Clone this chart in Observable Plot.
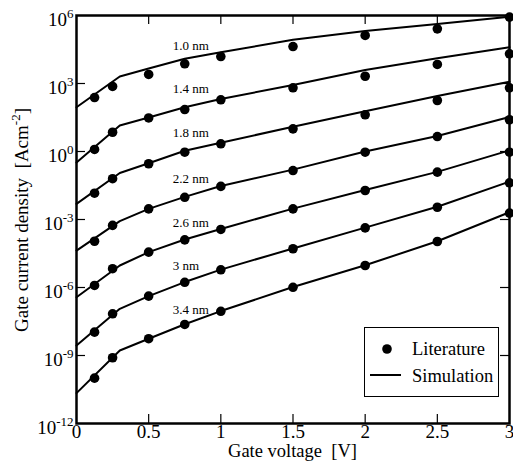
<!DOCTYPE html>
<html><head><meta charset="utf-8">
<script src="https://cdn.jsdelivr.net/npm/d3@7"></script>
<script src="https://cdn.jsdelivr.net/npm/@observablehq/plot@0.6"></script>
<style>
body{margin:0;background:#fff;}
svg, svg text, svg tspan{font-family:"Liberation Serif","Times New Roman",serif !important;}
</style></head><body><div id="chart"></div>
<script>
// Oxide thickness of each curve
const thicknesses = ["1.0 nm","1.4 nm","1.8 nm","2.2 nm","2.6 nm","3 nm","3.4 nm"];

// Literature points (gate voltage, V) and log10 of gate current density (A/cm^2)
const litVoltages = [0.125, 0.25, 0.5, 0.75, 1, 1.5, 2, 2.5, 3];
const lit_1_0 = [2.38, 2.87, 3.40, 3.87, 4.19, 4.63, 5.12, 5.41, 5.93];
const lit_1_4 = [0.09, 0.85, 1.48, 1.85, 2.28, 2.81, 3.32, 3.84, 4.31];
const lit_1_8 = [-1.84, -1.20, -0.54, -0.03, 0.34, 1.00, 1.62, 2.25, 2.81];
const lit_2_2 = [-3.96, -3.26, -2.53, -2.02, -1.54, -0.84, -0.03, 0.66, 1.40];
const lit_2_6 = [-5.91, -5.17, -4.44, -3.90, -3.44, -2.53, -1.72, -0.91, -0.03];
const lit_3_0 = [-7.97, -7.16, -6.38, -5.77, -5.22, -4.29, -3.37, -2.46, -1.38];
const lit_3_4 = [-10.00, -9.10, -8.26, -7.63, -7.05, -5.99, -5.03, -3.97, -2.72];

// Simulation curves: gate voltage and log10 of gate current density
const simVoltages = [0, 0.3, 0.5, 0.75, 1, 1.5, 2, 2.5, 3];
const sim_1_0 = [1.95, 3.31, 3.66, 4.09, 4.38, 4.93, 5.32, 5.62, 5.95];
const sim_1_4 = [-0.49, 1.15, 1.50, 1.95, 2.32, 2.93, 3.60, 4.11, 4.60];
const sim_1_8 = [-2.31, -0.95, -0.52, 0.03, 0.39, 1.09, 1.78, 2.45, 3.08];
const sim_2_2 = [-4.37, -3.07, -2.53, -2.00, -1.52, -0.80, 0.00, 0.68, 1.52];
const sim_2_6 = [-6.43, -5.03, -4.44, -3.88, -3.42, -2.52, -1.70, -0.90, 0.05];
const sim_3_0 = [-8.56, -6.94, -6.38, -5.76, -5.21, -4.28, -3.36, -2.44, -1.33];
const sim_3_4 = [-10.66, -8.78, -8.26, -7.62, -7.04, -5.98, -5.02, -3.96, -2.68];

// Curve label anchors (voltage, log10 current density)
const labelVoltage = 0.667;
const labelLog10 = [4.68, 2.78, 0.84, -1.19, -3.13, -5.03, -6.97];

// Axis ticks
const xTicks = [0, 0.5, 1, 1.5, 2, 2.5, 3];
const xInnerTicks = [0.5, 1, 1.5, 2, 2.5];
const yTickExponents = [-12, -9, -6, -3, 0, 3, 6];
const yInnerExponents = [-9, -6, -3, 0, 3];

const litSeries = [lit_1_0, lit_1_4, lit_1_8, lit_2_2, lit_2_6, lit_3_0, lit_3_4];
const simSeries = [sim_1_0, sim_1_4, sim_1_8, sim_2_2, sim_2_6, sim_3_0, sim_3_4];

const litRows = thicknesses.flatMap((t, i) => litVoltages.map((v, j) => ({t, V: v, J: 10 ** litSeries[i][j]})));
const simRows = thicknesses.flatMap((t, i) => simVoltages.map((v, j) => ({t, V: v, J: 10 ** simSeries[i][j]})));
const labelRows = thicknesses.map((t, i) => ({t, V: labelVoltage, J: 10 ** labelLog10[i]}));

const W = 513, H = 464, mL = 76, mR = 4, mT = 15, mB = 41;
const innerW = W - mL - mR, innerH = H - mT - mB, tick = 9;

const plot = Plot.plot({
  width: W, height: H,
  marginLeft: mL, marginRight: mR, marginTop: mT, marginBottom: mB,
  style: {fontSize: "19px", background: "white", color: "black", overflow: "visible"},
  x: {domain: [0, 3]},
  y: {type: "log", domain: [1e-12, 1e6]},
  marks: [
    Plot.ruleX(xInnerTicks, {x: d => d, insetTop: innerH - tick, stroke: "black", strokeWidth: 1.2}),
    Plot.ruleX(xInnerTicks, {x: d => d, insetBottom: innerH - tick, stroke: "black", strokeWidth: 1.2}),
    Plot.ruleY(yInnerExponents, {y: d => 10 ** d, insetRight: innerW - tick, stroke: "black", strokeWidth: 1.2}),
    Plot.ruleY(yInnerExponents, {y: d => 10 ** d, insetLeft: innerW - tick, stroke: "black", strokeWidth: 1.2}),
    Plot.axisX({ticks: xTicks, tickSize: 0, tickPadding: 1, tickFormat: d => String(d), label: null}),
    Plot.axisY({ticks: yTickExponents.map(e => 10 ** e), tickSize: 0, tickPadding: 3, tickFormat: d => "10^" + Math.round(Math.log10(d)), label: null}),
    Plot.frame({stroke: "black", strokeWidth: 2.5}),
    Plot.line(simRows, {x: "V", y: "J", z: "t", stroke: "black", strokeWidth: 2}),
    Plot.dot(litRows, {x: "V", y: "J", r: 4.8, fill: "black", stroke: null}),
    Plot.text(labelRows, {x: "V", y: "J", text: "t", textAnchor: "start", fontSize: 13, fill: "black"})
  ]
});

const svg = d3.select(plot);
// superscript tick labels
svg.selectAll('g[aria-label="y-axis tick label"] text').each(function() {
  const m = this.textContent.match(/^10\^(.+)$/);
  if (!m) return;
  const s = d3.select(this);
  s.text(null);
  s.append("tspan").attr("dy", 4).text("10");
  s.append("tspan").attr("dy", -8).style("font-size", "13px").text(m[1]);
});

// axis titles
svg.append("text")
  .attr("x", mL + innerW / 2).attr("y", 457)
  .attr("text-anchor", "middle").style("font-size", "18.5px").attr("fill", "black")
  .style("white-space", "pre")
  .text("Gate voltage  [V]");

const yt = svg.append("text")
  .attr("transform", "translate(28,220) rotate(-90)")
  .attr("text-anchor", "middle").style("font-size", "19px").attr("fill", "black")
  .style("white-space", "pre");
yt.append("tspan").text("Gate current density  [Acm");
yt.append("tspan").attr("dy", -8).style("font-size", "13px").text("-2");
yt.append("tspan").attr("dy", 8).text("]");

// legend
const lg = svg.append("g").attr("text-anchor", "start");
lg.append("rect").attr("x", 364.5).attr("y", 327.5).attr("width", 134).attr("height", 69)
  .style("fill", "white").style("stroke", "black").style("stroke-width", "1px");
lg.append("circle").attr("cx", 387).attr("cy", 349).attr("r", 4.8).style("fill", "black");
lg.append("text").attr("x", 412).attr("y", 355).attr("text-anchor", "start").style("font-size", "18.5px").style("fill", "black").text("Literature");
lg.append("line").attr("x1", 370).attr("x2", 401).attr("y1", 375).attr("y2", 375).style("stroke", "black").style("stroke-width", "2px");
lg.append("text").attr("x", 412).attr("y", 382).attr("text-anchor", "start").style("font-size", "18.5px").style("fill", "black").text("Simulation");

document.getElementById("chart").appendChild(plot);
</script></body></html>
